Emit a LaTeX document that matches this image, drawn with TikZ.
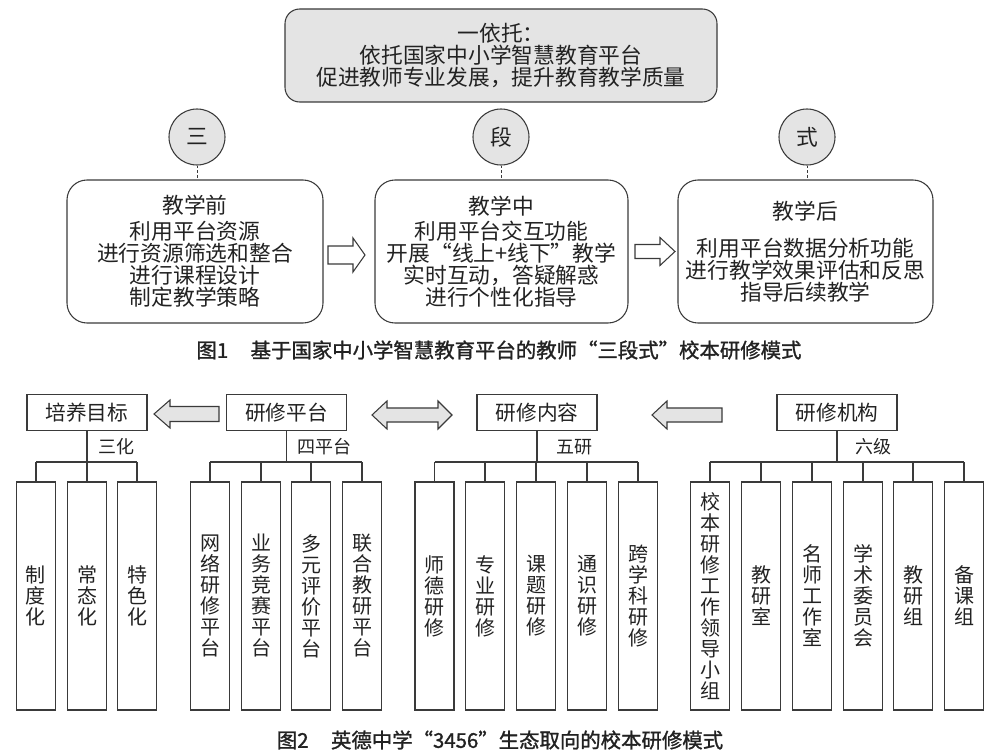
\documentclass[tikz,border=0pt]{standalone}
\usepackage{fontspec}
\setmainfont{Noto Sans CJK SC}
\newfontfamily\capfont[FakeBold=1.3]{Noto Sans CJK SC}
\usetikzlibrary{calc}
\definecolor{boxgray}{HTML}{E4E4E4}
\definecolor{linegray}{HTML}{3A3A3A}
\definecolor{txt}{HTML}{222222}
\begin{document}
\begin{tikzpicture}[x=0.75pt,y=-0.75pt,
  every node/.style={text=txt},
  bigf/.style={font=\fontsize{16.3}{16.5}\selectfont},
  topbox/.style={draw=linegray,line width=0.8pt,fill=boxgray,rounded corners=11pt,
    minimum width=324pt,minimum height=69.75pt,align=center,inner sep=0pt,bigf},
  circ/.style={draw=linegray,line width=0.8pt,fill=boxgray,circle,minimum size=42pt,inner sep=0pt,bigf},
  stagebox/.style={draw=linegray,line width=0.8pt,rounded corners=15pt,
    minimum height=107.25pt,align=center,inner sep=0pt,bigf},
  hollowarrow/.style={draw=linegray,line width=0.8pt,fill=white},
  grayarrow/.style={draw=linegray,line width=0.8pt,fill=boxgray},
  tbox/.style={draw=linegray,line width=0.8pt,minimum width=90pt,minimum height=27.5pt,
    inner sep=0pt,font=\fontsize{15.5}{16}\selectfont},
  cbox/.style={draw=linegray,line width=0.8pt,minimum width=29.25pt,minimum height=171pt,
    inner sep=0pt,align=center,font=\fontsize{15}{15.75}\selectfont},
  sublabel/.style={anchor=west,inner sep=0pt,font=\fontsize{13.5}{14}\selectfont},
  conn/.style={draw=linegray,line width=0.8pt},
  dashconn/.style={draw=linegray,line width=0.7pt,dash pattern=on 2pt off 1.5pt},
  caption/.style={inner sep=0pt,font=\capfont\fontsize{15.3}{16}\selectfont}
]
\useasboundingbox (0,0) rectangle (1001,756);

% ---------------- Figure 1 ----------------
\node[topbox] (top) at (501,55.5) {一依托：\\依托国家中小学智慧教育平台\\促进教师专业发展，提升教育教学质量};

\node[circ] (c1) at (197,137) {三};
\node[circ] (c2) at (501,137) {段};
\node[circ] (c3) at (807,137) {式};

\node[stagebox,minimum width=192pt] (b1) at (195,251.5)
  {教学前\\[3pt]利用平台资源\\进行资源筛选和整合\\进行课程设计\\制定教学策略};
\node[stagebox,minimum width=189.75pt] (b2) at (501.5,251.5)
  {教学中\\[2pt]利用平台交互功能\\开展“线上+线下”教学\\实时互动，答疑解惑\\进行个性化指导};
\node[stagebox,minimum width=191.25pt] (b3) at (805.5,251.5)
  {教学后\\[11pt]利用平台数据分析功能\\进行教学效果评估和反思\\指导后续教学};

\draw[dashconn] (c1.south) -- (c1.south |- b1.north);
\draw[dashconn] (c2.south) -- (c2.south |- b2.north);
\draw[dashconn] (c3.south) -- (c3.south |- b3.north);

% hollow arrows
\draw[hollowarrow] (328,246) -- (353,246) -- (353,238) -- (365,255) -- (353,272) -- (353,264) -- (328,264) -- cycle;
\draw[hollowarrow] (635,244.5) -- (660,244.5) -- (660,237.5) -- (675,251.5) -- (660,265.5) -- (660,258.5) -- (635,258.5) -- cycle;

\node[caption] (cap1) at (499,350) {图1\hspace{1.1em}基于国家中小学智慧教育平台的教师“三段式”校本研修模式};

% ---------------- Figure 2 ----------------
\node[tbox] (t1) at (87,412.5) {培养目标};
\node[tbox] (t2) at (286.5,412.5) {研修平台};
\node[tbox] (t3) at (537,412.5) {研修内容};
\node[tbox] (t4) at (837,412.5) {研修机构};

% block arrows
\draw[grayarrow] (154,414) -- (170,400) -- (170,406.5) -- (219,406.5) -- (219,421.5) -- (170,421.5) -- (170,428) -- cycle;
\draw[grayarrow] (372,415) -- (387,401) -- (387,408) -- (438,408) -- (438,401) -- (452,415) -- (438,429) -- (438,422) -- (387,422) -- (387,429) -- cycle;
\draw[grayarrow] (652,415) -- (667,401) -- (667,408) -- (722,408) -- (722,422) -- (667,422) -- (667,429) -- cycle;

\coordinate (bus) at (0,462);
\def\cy{596}

% children group 1
\node[cbox] (g11) at (36,\cy) {制\\度\\化};
\node[cbox] (g12) at (87,\cy) {常\\态\\化};
\node[cbox] (g13) at (137,\cy) {特\\色\\化};
% group 2
\node[cbox] (g21) at (210,\cy) {网\\络\\研\\修\\平\\台};
\node[cbox] (g22) at (261,\cy) {业\\务\\竞\\赛\\平\\台};
\node[cbox] (g23) at (311,\cy) {多\\元\\评\\价\\平\\台};
\node[cbox] (g24) at (362,\cy) {联\\合\\教\\研\\平\\台};
% group 3
\node[cbox] (g31) at (434.5,\cy) {师\\德\\研\\修};
\node[cbox] (g32) at (485,\cy) {专\\业\\研\\修};
\node[cbox] (g33) at (536,\cy) {课\\题\\研\\修};
\node[cbox] (g34) at (587,\cy) {通\\识\\研\\修};
\node[cbox] (g35) at (638,\cy) {跨\\学\\科\\研\\修};
% group 4
\node[cbox] (g41) at (710,\cy) {校\\本\\研\\修\\工\\作\\领\\导\\小\\组};
\node[cbox] (g42) at (761,\cy) {教\\研\\室};
\node[cbox] (g43) at (812,\cy) {名\\师\\工\\作\\室};
\node[cbox] (g44) at (863,\cy) {学\\术\\委\\员\\会};
\node[cbox] (g45) at (913,\cy) {教\\研\\组};
\node[cbox] (g46) at (964,\cy) {备\\课\\组};

% trees
\draw[conn] (t1.south) -- (t1.south |- bus);
\draw[conn] (g11.north |- bus) -- (g13.north |- bus);
\foreach \n in {g11,g12,g13} \draw[conn] (\n.north) -- (\n.north |- bus);
\node[sublabel] (l1) at ($(t1.south |- bus)+(11,-15)$) {三化};

\draw[conn] (t2.south) -- (t2.south |- bus);
\draw[conn] (g21.north |- bus) -- (g24.north |- bus);
\foreach \n in {g21,g22,g23,g24} \draw[conn] (\n.north) -- (\n.north |- bus);
\node[sublabel] (l2) at ($(t2.south |- bus)+(11,-15)$) {四平台};

\draw[conn] (t3.south) -- (t3.south |- bus);
\draw[conn] (g31.north |- bus) -- (g35.north |- bus);
\foreach \n in {g31,g32,g33,g34,g35} \draw[conn] (\n.north) -- (\n.north |- bus);
\node[sublabel] (l3) at ($(t3.south |- bus)+(19,-15)$) {五研};

\draw[conn] (t4.south) -- (t4.south |- bus);
\draw[conn] (g41.north |- bus) -- (g46.north |- bus);
\foreach \n in {g41,g42,g43,g44,g45,g46} \draw[conn] (\n.north) -- (\n.north |- bus);
\node[sublabel] (l4) at ($(t4.south |- bus)+(18,-15)$) {六级};

\node[caption] (cap2) at (500,740) {图2\hspace{1.1em}英德中学“3456”生态取向的校本研修模式};
\end{tikzpicture}
\end{document}
